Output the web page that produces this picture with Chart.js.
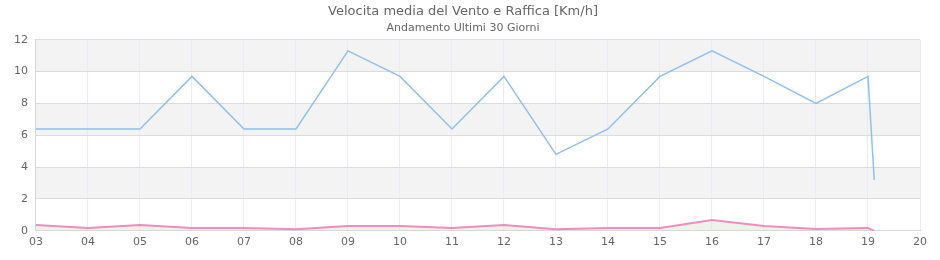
<!DOCTYPE html>
<html>
<head>
<meta charset="utf-8">
<script src="https://cdn.jsdelivr.net/npm/chart.js@4"></script>
<style>
  html, body { margin: 0; padding: 0; background: #fff; }
  #box { width: 940px; height: 260px; }
</style>
</head>
<body>
<div id="box"><canvas id="grafico"></canvas></div>
<script>
// giorni (asse x) e valori
var giorni      = [3, 4, 5, 6, 7, 8, 9, 10, 11, 12, 13, 14, 15, 16, 17, 18, 19, 19.12];
var raffica     = [6.4, 6.4, 6.4, 9.7, 6.4, 6.4, 11.3, 9.7, 6.4, 9.7, 4.8, 6.4, 9.7, 11.3, 9.7, 8.0, 9.7, 3.2];
var velocita    = [0.37, 0.18, 0.37, 0.18, 0.18, 0.1, 0.3, 0.3, 0.18, 0.37, 0.1, 0.18, 0.18, 0.68, 0.3, 0.12, 0.18, 0];
var tickY       = [0, 2, 4, 6, 8, 10, 12];

function punti(valori) {
    var out = [];
    for (let i = 0; i < giorni.length; i++) {
        out.push({x: giorni[i], y: valori[i]});
    }
    return out;
}

// fasce grigie alternate dietro la griglia
var fasce = {
    id: 'fasce',
    beforeDraw: function(chart) {
        var c = chart.ctx, area = chart.chartArea, y = chart.scales.y;
        c.save();
        c.fillStyle = '#f3f3f3';
        for (let v = 2; v < 12; v += 4) {
            let top = y.getPixelForValue(v + 2), bot = y.getPixelForValue(v);
            c.fillRect(area.left, top, area.right - area.left, bot - top);
        }
        c.restore();
    }
};

Chart.defaults.font.family = 'DejaVu Sans';
Chart.defaults.color = '#666';

var ctx = document.getElementById('grafico');
var grafico = new Chart(ctx, {
    type: 'line',
    data: {
        datasets: [{
            label: 'Raffica',
            data: punti(raffica),
            borderColor: '#8fc0f0',
            borderWidth: 1.5,
            fill: false,
            tension: 0
        }, {
            label: 'Velocita media',
            data: punti(velocita),
            borderColor: '#f08cc0',
            backgroundColor: 'rgba(220,232,210,0.5)',
            borderWidth: 2,
            fill: 'origin',
            tension: 0
        }]
    },
    options: {
        responsive: true,
        maintainAspectRatio: false,
        animation: false,
        layout: {
            padding: {left: 6, right: 20, top: 0, bottom: 6}
        },
        elements: {
            point: { radius: 0 }
        },
        plugins: {
            legend: { display: false },
            tooltip: { enabled: false },
            title: {
                display: true,
                text: 'Velocita media del Vento e Raffica [Km/h]',
                font: { size: 13, weight: 'normal' },
                padding: { top: 4, bottom: 2 }
            },
            subtitle: {
                display: true,
                text: 'Andamento Ultimi 30 Giorni',
                font: { size: 11 },
                padding: { top: 0, bottom: 5 }
            }
        },
        scales: {
            x: {
                type: 'linear',
                min: 3,
                max: 20,
                grid: { color: '#ebebf5', drawTicks: false },
                border: { color: '#d6d6d6' },
                ticks: {
                    stepSize: 1,
                    padding: 5,
                    font: { size: 11 },
                    callback: function(v) { return (v < 10 ? '0' : '') + v; }
                }
            },
            y: {
                min: 0,
                max: 12,
                grid: { color: '#dcdcdc', drawTicks: false },
                border: { color: '#d6d6d6' },
                afterBuildTicks: function(s) {
                    s.ticks = tickY.map(function(v) { return {value: v}; });
                },
                ticks: {
                    padding: 8,
                    font: { size: 11 }
                }
            }
        }
    },
    plugins: [fasce]
});
</script>
</body>
</html>
